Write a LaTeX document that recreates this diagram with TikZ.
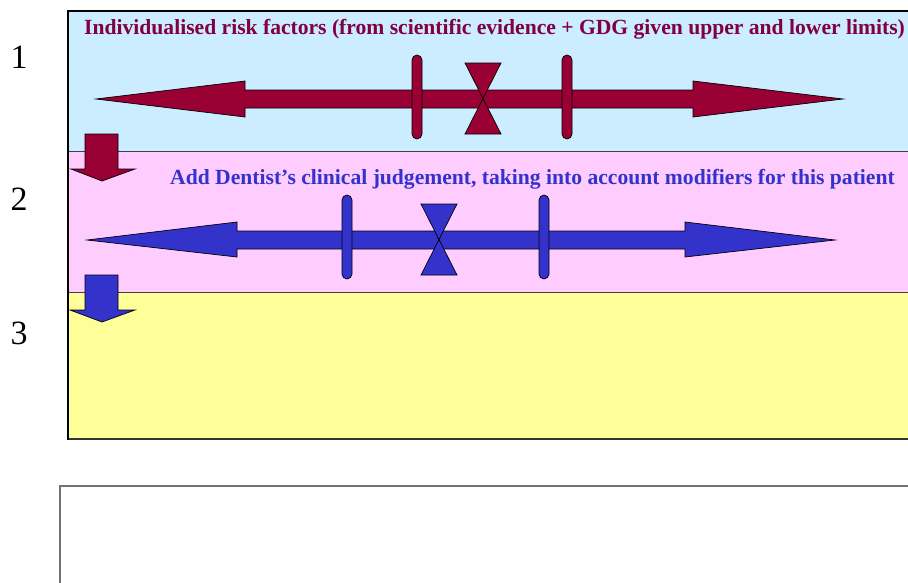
\documentclass[tikz,border=0pt]{standalone}
\usepackage{fontspec}
\setmainfont{Liberation Serif}
\definecolor{maroon}{HTML}{990033}
\definecolor{maroontext}{HTML}{800040}
\definecolor{royal}{HTML}{3333CC}
\definecolor{bandA}{HTML}{CCECFF}
\definecolor{bandB}{HTML}{FFCCFF}
\definecolor{bandC}{HTML}{FFFF99}
\tikzset{
  band/.style={draw=black!75, line width=0.8pt},
  shape1/.style={draw=black, line width=0.7pt, line join=miter},
  pill/.style={draw=black, line width=0.7pt, rounded corners=5pt},
  numlabel/.style={font=\fontsize{34}{34}\selectfont, inner sep=0pt},
  headline/.style={font=\fontsize{21.6}{22}\selectfont\bfseries, inner sep=0pt, anchor=west}
}
\begin{document}
\begin{tikzpicture}[x=1pt,y=-1pt]
\useasboundingbox (0,0) rectangle (908,582);
\begin{scope}
\clip (0,0) rectangle (908,582);
% bands
\fill[bandA] (68,11) rectangle (920,151);
\fill[bandB] (68,151) rectangle (920,292);
\fill[bandC] (68,292) rectangle (920,439);
\draw[band] (68,151) -- (920,151);
\draw[band] (68,292) -- (920,292);
\draw[draw=black!80, line width=1.2pt] (68,439) -- (920,439);
\draw[line width=2.6pt] (920,11) -- (68,11) -- (68,440);
% lower empty box
\draw[draw=black!55, line width=1.2pt] (60,600) -- (60,486) -- (920,486);
\end{scope}

% numbers
\node[numlabel] (n1) at (19,57) {1};
\node[numlabel] (n2) at (19,199) {2};
\node[numlabel] (n3) at (19,333) {3};

% texts
\node[headline, text=maroontext] (t1) at (84,29) {Individualised risk factors (from scientific evidence + GDG given upper and lower limits)};
\node[headline, text=royal] (t2) at (170,179) {Add Dentist’s clinical judgement, taking into account modifiers for this patient};

% arrow 1 (maroon)
\draw[shape1, fill=maroon] (96,99) -- (245,81) -- (245,90) -- (693,90) -- (693,81) -- (843,99)
  -- (693,117) -- (693,108) -- (245,108) -- (245,117) -- cycle;
\draw[pill, fill=maroon] (412,55) rectangle (422,139);
\draw[pill, fill=maroon] (562,55) rectangle (572,139);
\draw[shape1, fill=maroon] (465,63) -- (501,63) -- (465,134) -- (501,134) -- cycle;

% arrow 2 (blue)
\draw[shape1, fill=royal] (87,240) -- (237,222) -- (237,231) -- (685,231) -- (685,222) -- (835,240)
  -- (685,257) -- (685,249) -- (237,249) -- (237,257) -- cycle;
\draw[pill, fill=royal] (342,195) rectangle (352,279);
\draw[pill, fill=royal] (539,195) rectangle (549,279);
\draw[shape1, fill=royal] (421,204) -- (457,204) -- (421,275) -- (457,275) -- cycle;

% down arrows
\draw[shape1, fill=maroon] (85,134) -- (118,134) -- (118,169) -- (135,169) -- (102,181) -- (71,169) -- (85,169) -- cycle;
\draw[shape1, fill=royal] (85,275) -- (118,275) -- (118,310) -- (135,310) -- (102,322) -- (70,310) -- (85,310) -- cycle;
\end{tikzpicture}
\end{document}
